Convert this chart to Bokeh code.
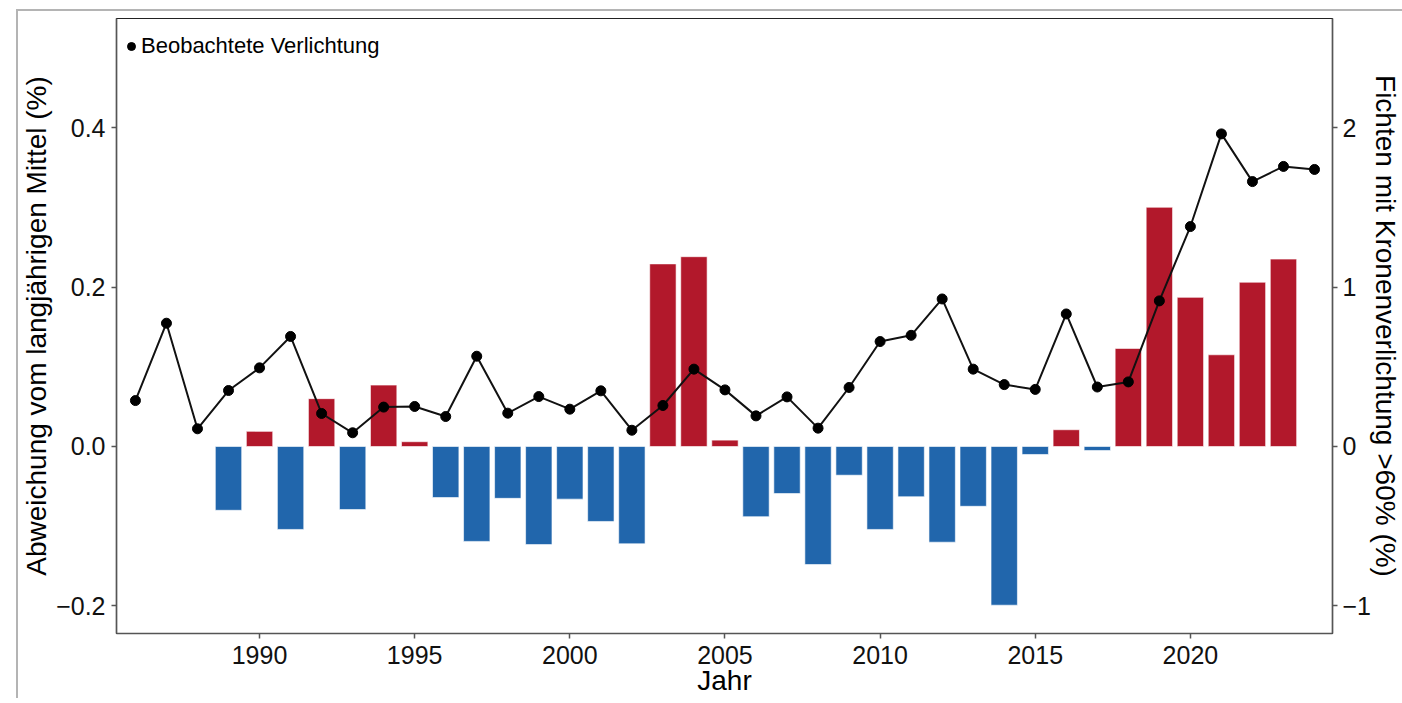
from bokeh.plotting import figure
from bokeh.models import (Range1d, LinearAxis, FixedTicker, CustomJSTickFormatter,
                          ColumnDataSource, Legend, LegendItem)
from bokeh.embed import file_html
from bokeh.resources import INLINE

# ---- data ----
bar_years = list(range(1989, 2024))
deviation = [-0.080, 0.019, -0.104, 0.060, -0.079, 0.077, 0.006, -0.064, -0.119, -0.065,
             -0.123, -0.066, -0.094, -0.122, 0.229, 0.238, 0.008, -0.088, -0.059, -0.148,
             -0.036, -0.104, -0.063, -0.120, -0.075, -0.199, -0.010, 0.021, -0.005, 0.123,
             0.300, 0.187, 0.115, 0.206, 0.235]
line_years = list(range(1986, 2025))
defoliation = [0.288, 0.773, 0.111, 0.351, 0.493, 0.690, 0.207, 0.086, 0.247, 0.251,
               0.188, 0.566, 0.209, 0.313, 0.234, 0.349, 0.102, 0.257, 0.485, 0.355,
               0.192, 0.311, 0.115, 0.370, 0.658, 0.697, 0.925, 0.485, 0.388, 0.358,
               0.831, 0.373, 0.405, 0.913, 1.379, 1.960, 1.661, 1.756, 1.737]
x_ticks = [1990, 1995, 2000, 2005, 2010, 2015, 2020]
left_ticks = [-0.2, 0.0, 0.2, 0.4]
right_ticks = [-1, 0, 1, 2]

POS = "#B2182B"
NEG = "#2166AC"
FONT = "Liberation Sans"

bar_src = ColumnDataSource(dict(x=bar_years, top=deviation,
                                color=[POS if v >= 0 else NEG for v in deviation]))
line_src = ColumnDataSource(dict(x=line_years, y=defoliation))

p = figure(output_backend="svg", toolbar_location=None,
           frame_width=1216, frame_height=615,
           x_range=Range1d(1985.39, 2024.58), y_range=Range1d(-0.2345, 0.5367),
           min_border_left=90, min_border_top=7, min_border_right=50, min_border_bottom=50)
p.extra_y_ranges = {"right": Range1d(-0.2345 * 5, 0.5367 * 5)}
p.margin = (9, 0, 0, 16)
p.styles = {"border-top": "2px solid #b4b4b4", "border-left": "2px solid #b4b4b4"}

p.vbar(x="x", top="top", bottom=0, width=0.85, source=bar_src,
       fill_color="color", line_color="white", line_alpha=0.6, line_width=1)
p.line(x="x", y="y", source=line_src, y_range_name="right", line_color="#111111", line_width=2)
sc = p.scatter(x="x", y="y", source=line_src, y_range_name="right", size=10,
               fill_color="black", line_color="black")

p.xgrid.visible = False
p.ygrid.visible = False
p.outline_line_color = "#222222"
p.outline_line_width = 1.2
p.background_fill_color = "white"
p.border_fill_color = "white"

right_axis = LinearAxis(y_range_name="right")
p.add_layout(right_axis, "right")

for ax in [p.xaxis[0], p.yaxis[0], right_axis]:
    ax.axis_line_color = "#555555"
    ax.axis_line_width = 1.5
    ax.major_tick_line_color = "#555555"
    ax.major_tick_line_width = 1.5
    ax.major_tick_out = 5
    ax.major_tick_in = 0
    ax.minor_tick_line_color = None
    ax.major_label_text_font = FONT
    ax.major_label_text_font_size = "25px"
    ax.major_label_text_color = "#111111"
    ax.major_label_standoff = 4
    ax.axis_label_text_font = FONT
    ax.axis_label_text_font_size = "28px"
    ax.axis_label_text_font_style = "normal"
    ax.axis_label_text_color = "black"

p.xaxis[0].ticker = FixedTicker(ticks=x_ticks)
p.xaxis[0].axis_label = "Jahr"
p.xaxis[0].major_label_standoff = 7
p.xaxis[0].axis_label_standoff = -2

p.yaxis[0].ticker = FixedTicker(ticks=left_ticks)
p.yaxis[0].formatter = CustomJSTickFormatter(code="return tick.toFixed(1).replace('-', '\u2212')")
p.yaxis[0].axis_label = "Abweichung vom langjährigen Mittel (%)"
p.yaxis[0].axis_label_standoff = 1
p.yaxis[0].major_label_standoff = 6

right_axis.ticker = FixedTicker(ticks=right_ticks)
right_axis.formatter = CustomJSTickFormatter(code="return tick.toFixed(0).replace('-', '\u2212')")
right_axis.axis_label = "Fichten mit Kronenverlichtung >60% (%)"
right_axis.axis_label_standoff = -4
right_axis.major_label_standoff = 5

legend = Legend(items=[LegendItem(label="Beobachtete Verlichtung", renderers=[sc])],
                location="top_left", margin=0, padding=0, glyph_width=20, glyph_height=20,
                label_standoff=0, label_text_font=FONT, label_text_font_size="22px",
                label_text_color="black",
                border_line_alpha=0, background_fill_alpha=0)
legend.location = (5, 574)
p.add_layout(legend)

open("out.html", "w").write(file_html(p, INLINE))
